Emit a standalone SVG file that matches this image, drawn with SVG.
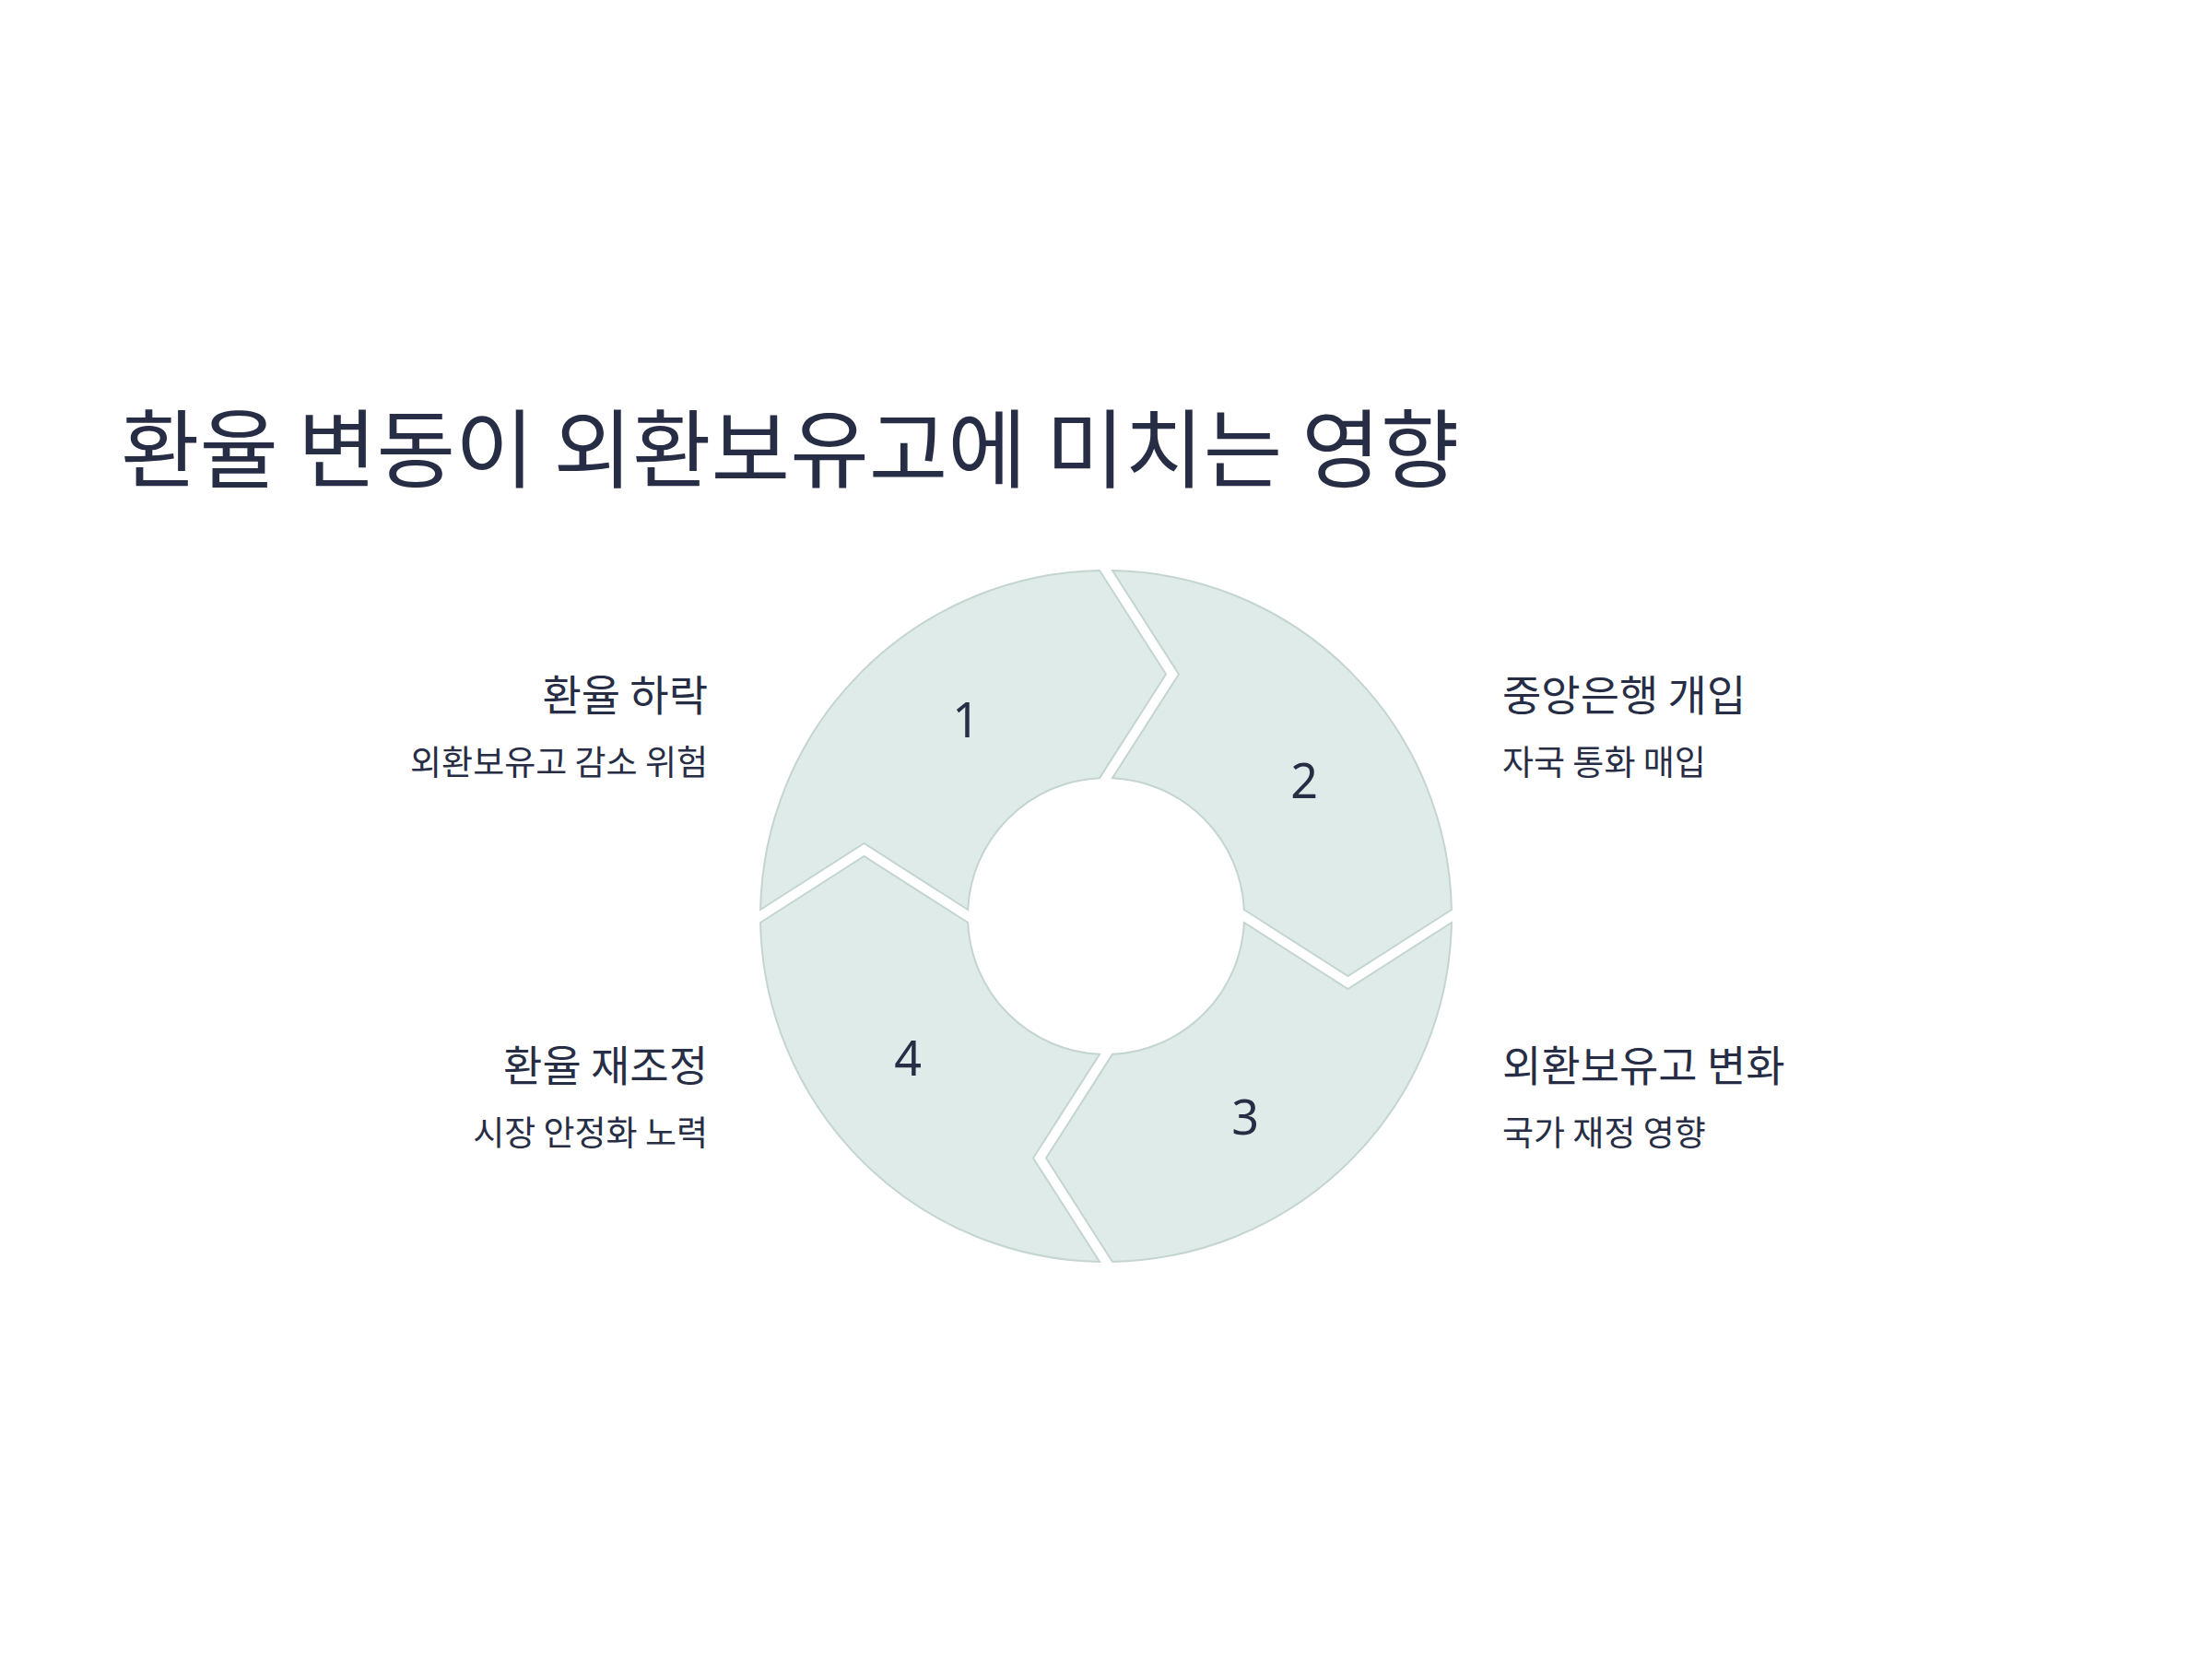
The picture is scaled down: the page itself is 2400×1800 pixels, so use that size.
<svg xmlns="http://www.w3.org/2000/svg" width="2400" height="1800" viewBox="0 0 2400 1800">
<style>
text{font-family:"Noto Sans CJK KR","Noto Sans",sans-serif;fill:#262d45}
.title{font-size:93px}
.num{font-size:52px;text-anchor:middle;font-family:"Noto Sans","Noto Sans CJK KR",sans-serif}
.lbl{font-size:46px}
.sub{font-size:37px}
.r{text-anchor:end}
.seg{fill:#dfebe8;stroke:#c4d5d0;stroke-width:2;stroke-linejoin:miter}
</style>
<rect width="2400" height="1800" fill="#ffffff"/>
<text class="title" x="131" y="522">환율 변동이 외환보유고에 미치는 영향</text>
<g id="connectors"></g>
<g id="node1">
<path class="seg" d="M825.07,987 A375,375 0 0 1 1193,619.07 L1265,731.5 L1193,844.16 A150,150 0 0 0 1050.16,987 L937.5,915 Z"/>
<text class="num" x="1048" y="800">1</text>
</g>
<g id="node2">
<path class="seg" d="M1207,619.07 A375,375 0 0 1 1574.93,987 L1462.5,1059 L1349.84,987 A150,150 0 0 0 1207,844.16 L1279,731.5 Z"/>
<text class="num" x="1415" y="866">2</text>
</g>
<g id="node3">
<path class="seg" d="M1574.93,1001 A375,375 0 0 1 1207,1368.93 L1135,1256.5 L1207,1143.84 A150,150 0 0 0 1349.84,1001 L1462.5,1073 Z"/>
<text class="num" x="1351" y="1231">3</text>
</g>
<g id="node4">
<path class="seg" d="M1193,1368.93 A375,375 0 0 1 825.07,1001 L937.5,929 L1050.16,1001 A150,150 0 0 0 1193,1143.84 L1121,1256.5 Z"/>
<text class="num" x="985" y="1167">4</text>
</g>
<g id="label1">
<text class="lbl r" x="768" y="771">환율 하락</text>
<text class="sub r" x="768" y="841">외환보유고 감소 위험</text>
</g>
<g id="label2">
<text class="lbl" x="1630" y="771">중앙은행 개입</text>
<text class="sub" x="1630" y="841">자국 통화 매입</text>
</g>
<g id="label3">
<text class="lbl" x="1630" y="1173">외환보유고 변화</text>
<text class="sub" x="1630" y="1243">국가 재정 영향</text>
</g>
<g id="label4">
<text class="lbl r" x="768" y="1173">환율 재조정</text>
<text class="sub r" x="768" y="1243">시장 안정화 노력</text>
</g>
</svg>
